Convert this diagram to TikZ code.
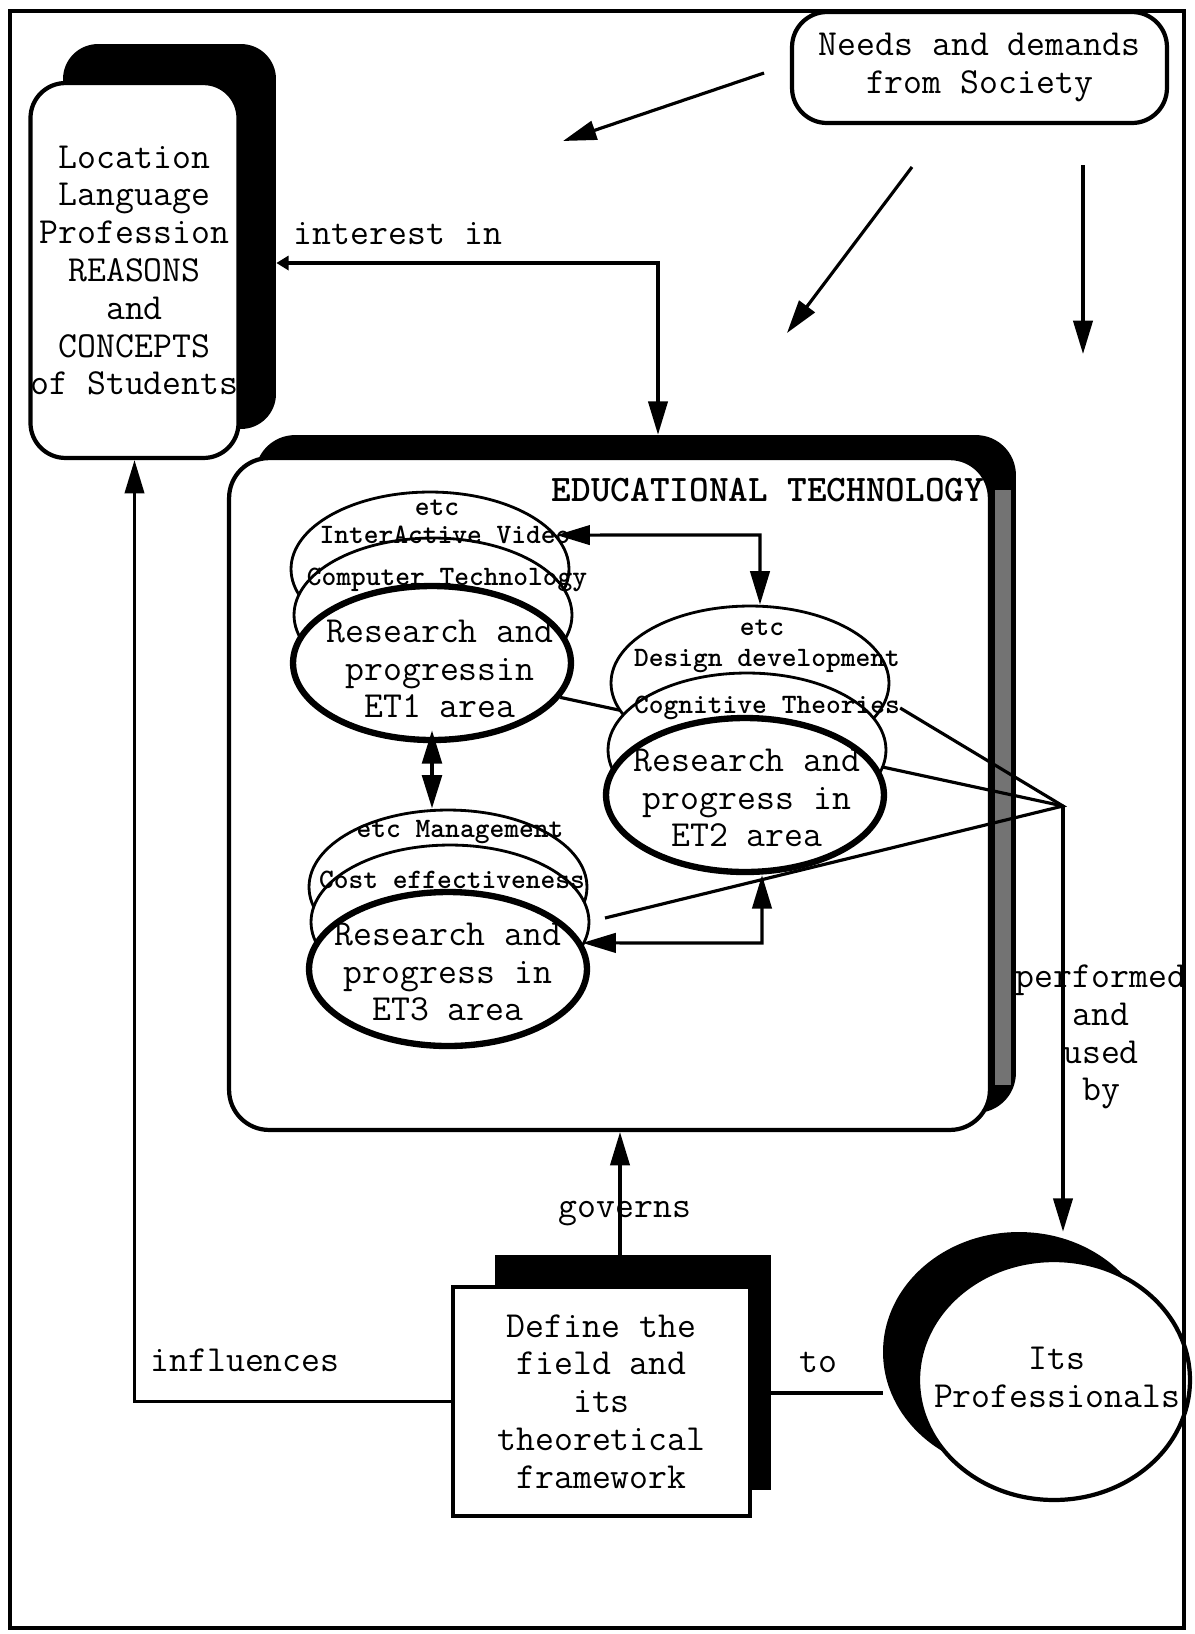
\documentclass[tikz,border=0pt]{standalone}
\usepackage{fontspec}
\usetikzlibrary{shapes.geometric,arrows.meta}
\begin{document}
\begin{tikzpicture}[x=0.02cm,y=-0.02cm,
  >={Triangle[length=19pt,width=11pt]},
  big/.style={font=\ttfamily\fontsize{20.9}{21.5}\selectfont,align=center,inner sep=0pt},
  small/.style={font=\ttfamily\bfseries\fontsize{16}{17}\selectfont,inner sep=0pt},
  conn/.style={line width=1.8pt},
  shadowbox/.style={fill=black,inner sep=0pt},
  box/.style={draw,fill=white,line width=2.4pt,inner sep=0pt},
  layer/.style={ellipse,draw,fill=white,line width=1.6pt,inner sep=0pt,minimum width=5.56cm,minimum height=3.08cm},
  mainlayer/.style={layer,line width=3.6pt}]
\useasboundingbox (0,0) rectangle (1195,1634);
% Students
\node[shadowbox,rounded corners=0.7cm,minimum width=4.26cm,minimum height=7.7cm] (studsh) at (169.5,236.5) {};
\node[box,big,rounded corners=0.7cm,minimum width=4.14cm,minimum height=7.5cm] (stud) at (134.5,270.5) {Location\\Language\\Profession\\REASONS\\and\\CONCEPTS\\of Students};
% Society
\node[box,big,rounded corners=0.7cm,minimum width=7.5cm,minimum height=2.22cm] (soc) at (979.5,67.5) {Needs and demands\\from Society};
\coordinate (s1a) at (764,73);
\coordinate (s1b) at (563,141);
\coordinate (s2a) at (912,167);
\coordinate (s2b) at (787,333);
\coordinate (s3a) at (1083,165);
\coordinate (s3b) at (1083,354);
\draw[conn,->] (s1a) -- (s1b);
\draw[conn,->] (s2a) -- (s2b);
\draw[conn,->] (s3a) -- (s3b);
% Educational technology box
\node[shadowbox,rounded corners=0.8cm,minimum width=15.22cm,minimum height=13.56cm] (etsh) at (635.5,774) {};
\fill[black!55] (995,490) rectangle (1011,1085);
\node[box,rounded corners=0.8cm,minimum width=15.22cm,minimum height=13.44cm] (et) at (609.5,794) {};
\node[font=\ttfamily\bfseries\fontsize{21.3}{22}\selectfont,inner sep=0pt] (ettitle) at (768,490) {EDUCATIONAL TECHNOLOGY};
% ET1 area
\node[layer] (e1top) at (430,569) {};
\node[layer] (e1mid) at (433,615) {};
\node[mainlayer] (e1) at (432,663) {};
\coordinate (fan) at (1063,806);
\draw[conn] (fan) -- (e1.-15);
% ET2 area
\node[layer] (e2top) at (750,683) {};
\node[layer] (e2mid) at (747,750) {};
\node[mainlayer] (e2) at (745,795) {};
% ET3 area
\node[layer] (e3top) at (448,887) {};
\node[layer] (e3mid) at (450,922) {};
\node[mainlayer] (e3) at (448,969) {};
% Layer texts
\node[small] (e1a) at (437,508) {etc};
\node[small] (e1b) at (445,535) {InterActive Video};
\node[small] (e1c) at (447,580) {Computer Technology};
\node[big] (e1t) at (440,669) {Research and\\progressin\\ET1 area};
\node[small] (e2a) at (762,628) {etc};
\node[small] (e2b) at (767,661) {Design development};
\node[small] (e2c) at (767,708) {Cognitive Theories};
\node[big] (e2t) at (747,798) {Research and\\progress in\\ET2 area};
\node[small] (e3a) at (460,832) {etc Management};
\node[small] (e3b) at (452,880) {Cost effectiveness};
\node[big] (e3t) at (448,972) {Research and\\progress in\\ET3 area};
% Links between areas
\coordinate (c12) at (760,535);
\draw[conn,<->] (e1top.15) -- (c12) -- (c12 |- e2top.north);
\draw[conn,line width=2.4pt,<->,shorten <=-0.26cm] (e1.south) -- (e1.south |- e3top.north);
\coordinate (c32) at (762,943);
\draw[conn,<->] (e3.11) -- (c32) -- (c32 |- e2.south);
\coordinate (f3) at (605,918);
\draw[conn] (e2c.east) -- (fan) -- (f3);
% Interest in
\coordinate (ii) at (658,263);
\draw[conn,{Triangle[length=7pt,width=8pt]}->] (studsh.east |- ii) -- (ii) -- (ii |- etsh.north);
\node[big] (lint) at (398,234) {interest in};
% Define the field
\node[shadowbox,minimum width=5.52cm,minimum height=4.7cm] (defsh) at (633,1372.5) {};
\node[box,big,minimum width=5.94cm,minimum height=4.58cm] (def) at (601.5,1401.5) {Define the\\field and\\its\\theoretical\\framework};
% Professionals
\node[ellipse,fill=black,inner sep=0pt,minimum width=5.44cm,minimum height=4.8cm] (profsh) at (1019,1352) {};
\node[ellipse,box,minimum width=5.44cm,minimum height=4.8cm] (prof) at (1054,1380) {};
\node[big] (proft) at (1057,1377) {Its\\Professionals};
% Connectors below
\draw[conn,->] (fan) -- (fan |- profsh.north);
\node[big] (lperf) at (1101,1037) {performed\\and\\used\\by};
\coordinate (gv) at (620,1255);
\draw[conn,->] (gv) -- (gv |- et.south) node[big,pos=0.34,xshift=0.1cm] (lgov) {governs};
\draw[conn,->] (def.west) -| (stud.south);
\node[big] (linf) at (245,1360) {influences};
\coordinate (toy) at (0,1393);
\draw[conn] (defsh.east |- toy) -- (profsh.west |- toy);
\node[big] (lto) at (818,1362) {to};
% Frame
\draw[line width=2.8pt] (10,11) rectangle (1184,1628);
\end{tikzpicture}
\end{document}
